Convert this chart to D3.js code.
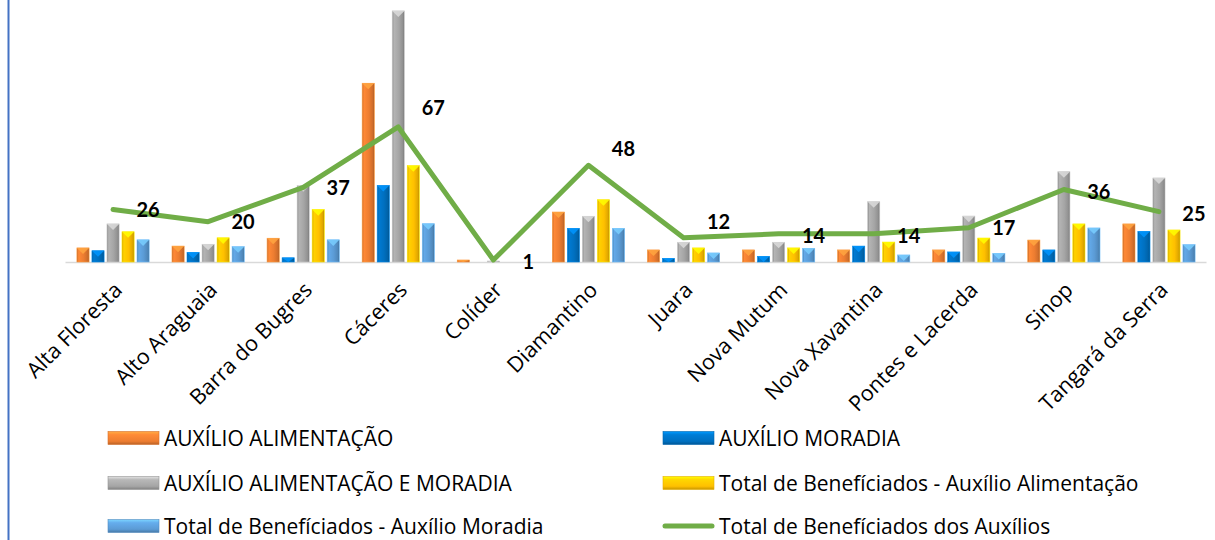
<!DOCTYPE html>
<html><head><meta charset="utf-8">
<script src="https://cdn.jsdelivr.net/npm/d3@7/dist/d3.min.js"></script>
<style>
html,body{margin:0;padding:0;background:#fff;}
svg{display:block;}
</style></head>
<body>
<svg id="chart" width="1215" height="540"></svg>
<script>
// ---- DATA ----
const categories = ["Alta Floresta","Alto Araguaia","Barra do Bugres","Cáceres","Colíder","Diamantino","Juara","Nova Mutum","Nova Xavantina","Pontes e Lacerda","Sinop","Tangará da Serra"];
const seriesNames = ["AUXÍLIO ALIMENTAÇÃO","AUXÍLIO MORADIA","AUXÍLIO ALIMENTAÇÃO E MORADIA","Total de Benefíciados - Auxílio Alimentação","Total de Benefíciados - Auxílio Moradia"];
const auxAlimentacao      = [7, 7.9, 11.8, 88.7, 1, 24.8, 6, 6, 6, 6, 10.9, 18.9];
const auxMoradia          = [5.6, 4.8, 2.1, 38, 0, 16.7, 1.8, 2.8, 7.9, 5, 6, 15.2];
const auxAlimMoradia      = [18.9, 8.8, 37.9, 124.6, 0.5, 22.7, 9.8, 9.8, 29.9, 22.8, 44.8, 41.7];
const totalBenefAlim      = [15, 12, 26, 47.8, 0, 30.9, 7, 7, 9.9, 11.9, 18.9, 15.9];
const totalBenefMoradia   = [11, 7.6, 11, 19, 0, 16.7, 4.5, 6.8, 3.5, 4.3, 16.9, 8.6];
const lineName = "Total de Benefíciados dos Auxílios";
const totalBenefAuxilios  = [26, 20, 37, 67, 1, 48, 12, 14, 14, 17, 36, 25];
// label vertical nudges (style only)
const labelShift = [0, 0, 0, -19, 2, -16, -16, 2, 2, 0, 2, 2];

const barSeries = [auxAlimentacao, auxMoradia, auxAlimMoradia, totalBenefAlim, totalBenefMoradia];
const colors = ["#ED7D31","#0070C0","#A5A5A5","#FFC000","#5B9BD5"];
const lineColor = "#70AD47";
const textFont = "'Open Sans', sans-serif";

// ---- LAYOUT ----
const svg = d3.select("#chart");
const plotLeft = 65.5, plotRight = 1206.5, baseY = 262, topY = 0;

const x = d3.scaleBand().domain(categories).range([plotLeft, plotRight]).paddingInner(0).paddingOuter(0);
const y = d3.scaleLinear().domain([0, 130]).range([baseY, topY]);
const groupW = x.bandwidth() * 0.76;
const xs = d3.scaleBand().domain(d3.range(barSeries.length)).range([0, groupW]).paddingInner(0.19).paddingOuter(0);

// gradients
const defs = svg.append("defs");
colors.forEach((c, i) => {
  const g = defs.append("linearGradient").attr("id", "g" + i).attr("x1", "0").attr("x2", "1").attr("y1", "0").attr("y2", "0");
  const base = d3.color(c);
  g.append("stop").attr("offset", "0%").attr("stop-color", base.darker(0.5));
  g.append("stop").attr("offset", "15%").attr("stop-color", base.brighter(0.25));
  g.append("stop").attr("offset", "55%").attr("stop-color", base);
  g.append("stop").attr("offset", "85%").attr("stop-color", base.darker(0.35));
  g.append("stop").attr("offset", "100%").attr("stop-color", base.darker(0.8));
  const gv = defs.append("linearGradient").attr("id", "gl" + i).attr("x1", "0").attr("x2", "0").attr("y1", "0").attr("y2", "1");
  gv.append("stop").attr("offset", "0%").attr("stop-color", base.brighter(0.9));
  gv.append("stop").attr("offset", "25%").attr("stop-color", base.brighter(0.3));
  gv.append("stop").attr("offset", "75%").attr("stop-color", base);
  gv.append("stop").attr("offset", "100%").attr("stop-color", base.darker(0.7));
});

// left border
svg.append("line").attr("x1", 8.5).attr("x2", 8.5).attr("y1", 0).attr("y2", 540)
  .attr("stroke", "#4472C4").attr("stroke-width", 2);

// baseline
svg.append("line").attr("x1", plotLeft).attr("x2", plotRight).attr("y1", baseY + 0.5).attr("y2", baseY + 0.5)
  .attr("stroke", "#D9D9D9").attr("stroke-width", 1.5);

// bars
const barsG = svg.append("g");
barSeries.forEach((vals, si) => {
  const g = barsG.append("g");
  vals.forEach((v, ci) => {
    if (v <= 0) return;
    const bx = x(categories[ci]) + (x.bandwidth() - groupW) / 2 + xs(si);
    const bw = xs.bandwidth();
    const by = y(v);
    const bh = baseY - by;
    g.append("rect").attr("x", bx).attr("y", by).attr("width", bw).attr("height", bh)
      .attr("fill", `url(#g${si})`).attr("stroke", d3.color(colors[si]).brighter(0.6)).attr("stroke-width", 0.6);
    const capH = Math.min(bw * 0.5, bh);
    g.append("path")
      .attr("d", `M${bx},${by} L${bx + bw},${by} L${bx + bw / 2},${by + capH} Z`)
      .attr("fill", d3.color(colors[si]).brighter(0.8)).attr("opacity", 0.85);
  });
});

// line
const line = d3.line().x((d, i) => x(categories[i]) + x.bandwidth() / 2).y(d => y(d));
svg.append("path").datum(totalBenefAuxilios).attr("d", line)
  .attr("fill", "none").attr("stroke", lineColor).attr("stroke-width", 5).attr("stroke-linejoin", "round").attr("stroke-linecap", "round");

// value labels
svg.append("g").selectAll("text").data(totalBenefAuxilios).join("text")
  .attr("x", (d, i) => x(categories[i]) + x.bandwidth() / 2 + 35)
  .attr("y", (d, i) => y(d) + labelShift[i])
  .attr("dy", "0.36em")
  .attr("text-anchor", "middle")
  .attr("font-family", "Lato, 'Open Sans', sans-serif")
  .attr("font-weight", "bold").attr("font-size", 20).attr("fill", "#000")
  .text(d => d);

// x axis labels
const xAxis = d3.axisBottom(x).tickSize(0).tickPadding(0);
const ax = svg.append("g").attr("transform", `translate(0,${baseY})`).call(xAxis);
ax.select(".domain").remove();
ax.selectAll(".tick text")
  .attr("font-family", textFont).attr("font-size", 21.5).attr("fill", "#000")
  .attr("text-anchor", "end")
  .attr("transform", "translate(5,24) rotate(-45)")
  .attr("dy", "0.35em").attr("y", 0);

// legend
const legendItems = [
  {name: seriesNames[0], type: "bar", i: 0, col: 0, row: 0},
  {name: seriesNames[1], type: "bar", i: 1, col: 1, row: 0},
  {name: seriesNames[2], type: "bar", i: 2, col: 0, row: 1},
  {name: seriesNames[3], type: "bar", i: 3, col: 1, row: 1},
  {name: seriesNames[4], type: "bar", i: 4, col: 0, row: 2},
  {name: lineName, type: "line", col: 1, row: 2}
];
const colX = [108, 663], rowY = [438, 483, 526];
const leg = svg.append("g");
legendItems.forEach(it => {
  const lx = colX[it.col], ly = rowY[it.row];
  if (it.type === "bar") {
    leg.append("rect").attr("x", lx).attr("y", ly - 6.5).attr("width", 51).attr("height", 13)
      .attr("fill", `url(#gl${it.i})`).attr("stroke", d3.color(colors[it.i]).darker(0.3)).attr("stroke-width", 0.6);
  } else {
    leg.append("line").attr("x1", lx + 2).attr("x2", lx + 49).attr("y1", ly).attr("y2", ly)
      .attr("stroke", lineColor).attr("stroke-width", 5).attr("stroke-linecap", "round");
  }
  leg.append("text").attr("x", lx + 56).attr("y", ly).attr("dy", "0.36em")
    .attr("font-family", textFont).attr("font-size", 21).attr("fill", "#000")
    .text(it.name);
});
</script>
</body></html>
